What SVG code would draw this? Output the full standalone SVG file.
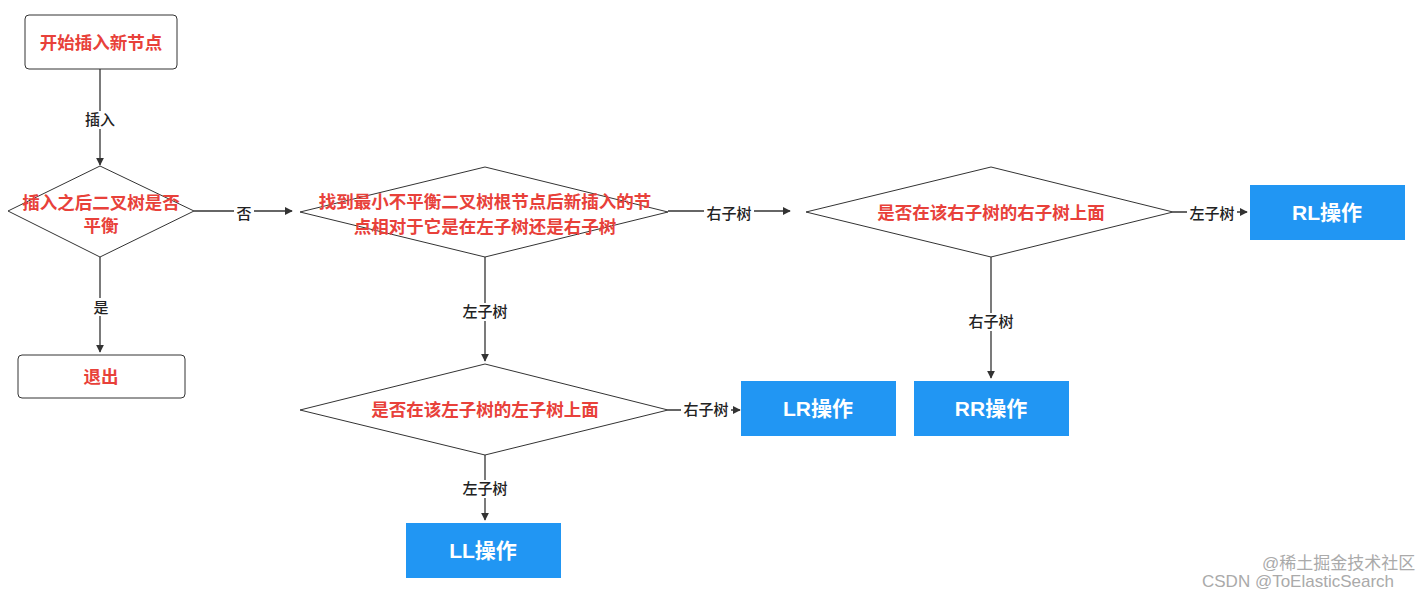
<svg xmlns="http://www.w3.org/2000/svg" width="1428" height="596" viewBox="0 0 1428 596">
<style>
.n{fill:#fff;stroke:#333;stroke-width:1}
.rt{font-family:"Liberation Sans","Noto Sans CJK SC",sans-serif;font-size:17.5px;font-weight:bold;fill:#e8413a;text-anchor:middle}
.b{fill:#2196f3}
.bt{font-family:"Liberation Sans","Noto Sans CJK SC",sans-serif;font-size:21px;font-weight:bold;fill:#fff;text-anchor:middle}
.l{stroke:#333;stroke-width:1.3;fill:none;marker-end:url(#a)}
.lb{fill:#fff}
.lt{font-family:"Liberation Sans","Noto Sans CJK SC",sans-serif;font-size:15px;font-weight:500;fill:#222;text-anchor:middle}
.wm{font-family:"Liberation Sans","Noto Sans CJK SC",sans-serif;font-size:17px;fill:#aaa}
</style>
<defs><marker id="a" viewBox="0 0 10 10" refX="9" refY="5" markerWidth="8" markerHeight="8" markerUnits="userSpaceOnUse" orient="auto"><path d="M0,0L10,5L0,10z" fill="#333"/></marker></defs>
<rect width="1428" height="596" fill="#fff"/>
<g id="connectors">
<path class="l" d="M100,69V165"/><rect class="lb" x="82" y="111" width="36" height="18"/><text class="lt" x="100" y="125">插入</text>
<path class="l" d="M194,211H292"/><rect class="lb" x="234" y="203" width="20" height="18"/><text class="lt" x="244" y="219">否</text>
<path class="l" d="M100,257V352"/><rect class="lb" x="91" y="298" width="20" height="18"/><text class="lt" x="101" y="313">是</text>
<path class="l" d="M668,211H790"/><rect class="lb" x="704" y="205" width="50" height="18"/><text class="lt" x="729" y="219">右子树</text>
<path class="l" d="M1173,212H1247"/><rect class="lb" x="1187" y="205" width="50" height="18"/><text class="lt" x="1212" y="219">左子树</text>
<path class="l" d="M991,257V378"/><rect class="lb" x="966" y="313" width="50" height="18"/><text class="lt" x="991" y="327">右子树</text>
<path class="l" d="M485,257V361"/><rect class="lb" x="460" y="303" width="50" height="18"/><text class="lt" x="485" y="317">左子树</text>
<path class="l" d="M668,410H740"/><rect class="lb" x="681" y="401" width="50" height="18"/><text class="lt" x="706" y="415">右子树</text>
<path class="l" d="M485,455V520"/><rect class="lb" x="460" y="480" width="50" height="18"/><text class="lt" x="485" y="494">左子树</text>
</g>
<g id="start"><rect class="n" x="25" y="15" width="152" height="54" rx="4"/><text class="rt" x="101" y="49">开始插入新节点</text></g>
<g id="d1"><path class="n" d="M8,211L100,166L194,211L100,257Z"/><text class="rt" x="101" y="209">插入之后二叉树是否</text><text class="rt" x="101" y="232">平衡</text></g>
<g id="exit"><rect class="n" x="18" y="355" width="167" height="43" rx="4"/><text class="rt" x="101" y="383">退出</text></g>
<g id="d2"><path class="n" d="M300,212L485,167L668,212L485,257Z"/><text class="rt" x="485" y="208">找到最小不平衡二叉树根节点后新插入的节</text><text class="rt" x="485" y="233">点相对于它是在左子树还是右子树</text></g>
<g id="d3"><path class="n" d="M806,212L991,167L1173,212L991,257Z"/><text class="rt" x="991" y="219">是否在该右子树的右子树上面</text></g>
<g id="d4"><path class="n" d="M300,410L485,364L668,410L485,455Z"/><text class="rt" x="485" y="416">是否在该左子树的左子树上面</text></g>
<g id="rl"><rect class="b" x="1250" y="185" width="155" height="55"/><text class="bt" x="1327" y="220">RL操作</text></g>
<g id="rr"><rect class="b" x="914" y="381" width="155" height="55"/><text class="bt" x="991" y="416">RR操作</text></g>
<g id="lr"><rect class="b" x="741" y="381" width="155" height="55"/><text class="bt" x="818" y="416">LR操作</text></g>
<g id="ll"><rect class="b" x="406" y="523" width="155" height="55"/><text class="bt" x="483" y="558">LL操作</text></g>
<text class="wm" x="1262" y="569">@稀土掘金技术社区</text>
<text class="wm" x="1202" y="587">CSDN @ToElasticSearch</text>
</svg>
